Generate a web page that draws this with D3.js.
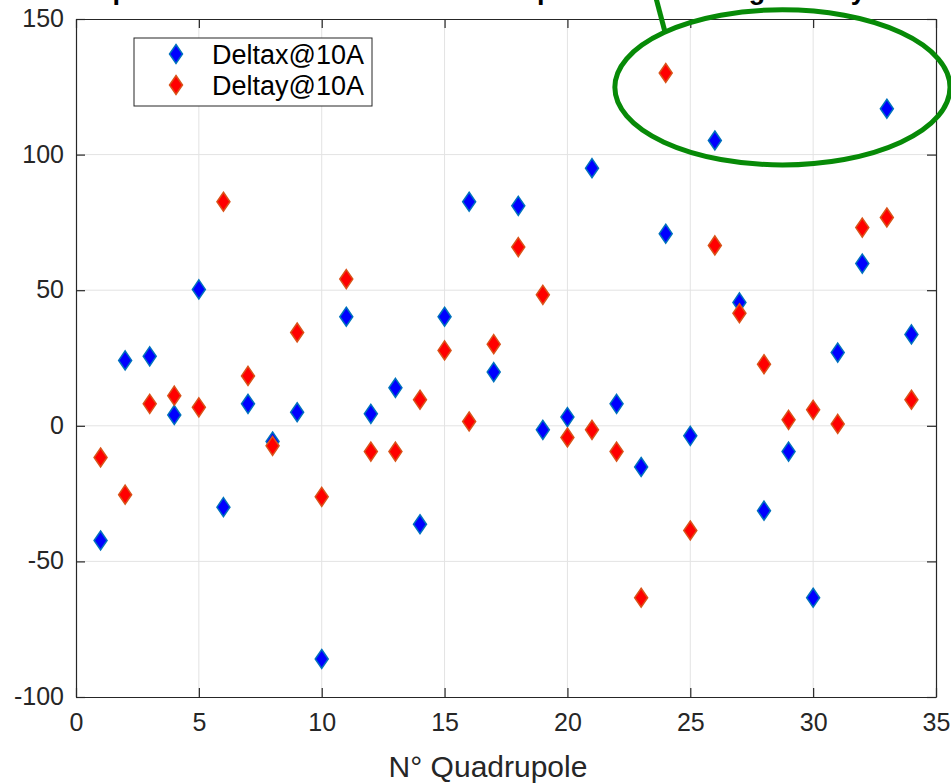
<!DOCTYPE html>
<html>
<head>
<meta charset="utf-8">
<script src="https://cdn.jsdelivr.net/npm/d3@7"></script>
<style>
  html, body { margin: 0; padding: 0; background: #fff; }
  svg { display: block; }
  text { font-family: "Liberation Sans", Arial, Helvetica, sans-serif; }
</style>
</head>
<body>
<svg id="chart" width="951" height="783"></svg>
<script>
// Quadrupole index (x) and measured offsets at 10 A
const quadrupoles = d3.range(1, 35);
const deltax = [-42.3, 24.1, 25.6, 4.0, 50.3, -30.0, 8.1, -5.8, 5.0, -86.0,
                40.2, 4.4, 14.0, -36.3, 40.2, 82.6, 19.8, 81.1, -1.5, 3.2,
                95.0, 8.1, -15.2, 70.8, -3.7, 105.2, 45.5, -31.3, -9.5, -63.4,
                27.0, 59.8, 116.9, 33.7];
const deltay = [-11.7, -25.4, 8.1, 11.1, 6.8, 82.6, 18.4, -7.4, 34.4, -26.2,
                54.1, -9.5, -9.5, 9.6, 27.8, 1.6, 30.1, 65.9, 48.3, -4.3,
                -1.5, -9.5, -63.4, 130.1, -38.6, 66.5, 41.5, 22.7, 2.2, 5.9,
                0.7, 73.1, 76.8, 9.6];
const seriesNames = ["Deltax@10A", "Deltay@10A"];
const xTicks = [0, 5, 10, 15, 20, 25, 30, 35];
const yTicks = [-100, -50, 0, 50, 100, 150];
const titleText = "Representation of the measured displacements along x and y of the magnetic quadrupoles";
const xLabel = "N\u00B0 Quadrupole";
// Highlighted region (data units): centre and half-extents
const highlight = { cx: 28.75, cy: 124.8, rx: 6.82, ry: 28.6 };

const svg = d3.select("#chart");
const W = 951, H = 783;
const m = { left: 76, right: 15, top: 19, bottom: 86 };
const x = d3.scaleLinear().domain([0, 35]).range([m.left, W - m.right]);
const y = d3.scaleLinear().domain([-100, 150]).range([H - m.bottom, m.top]);

const axisColor = "#262626";
const gridColor = "#e3e3e3";
const fmt = d => String(d);   // plain hyphen-minus

// grid
const grid = svg.append("g");
grid.selectAll("line.gx").data(xTicks.slice(1, -1)).join("line")
  .attr("x1", d => x(d)).attr("x2", d => x(d))
  .attr("y1", y(-100)).attr("y2", y(150))
  .attr("stroke", gridColor).attr("stroke-width", 1);
grid.selectAll("line.gy").data(yTicks.slice(1, -1)).join("line")
  .attr("x1", x(0)).attr("x2", x(35))
  .attr("y1", d => y(d)).attr("y2", d => y(d))
  .attr("stroke", gridColor).attr("stroke-width", 1);

// axes (ticks point inward, box on all four sides)
function styleAxis(g) {
  g.select(".domain").attr("stroke", axisColor).attr("stroke-width", 1.2);
  g.selectAll(".tick line").attr("stroke", axisColor).attr("stroke-width", 1.2);
  g.selectAll(".tick text").attr("fill", axisColor).attr("font-size", 25);
}
svg.append("g").attr("transform", `translate(0,${y(-100)})`)
  .call(d3.axisBottom(x).tickValues(xTicks).tickFormat(fmt)
        .tickSizeInner(-9).tickSizeOuter(0).tickPadding(16))
  .call(styleAxis)
  .call(g => g.selectAll(".tick text").attr("dy", "0.71em"));
svg.append("g").attr("transform", `translate(0,${y(150)})`)
  .call(d3.axisTop(x).tickValues(xTicks).tickFormat("")
        .tickSizeInner(-9).tickSizeOuter(0))
  .call(styleAxis);
svg.append("g").attr("transform", `translate(${x(0)},0)`)
  .call(d3.axisLeft(y).tickValues(yTicks).tickFormat(fmt)
        .tickSizeInner(-9).tickSizeOuter(0).tickPadding(12))
  .call(styleAxis)
  .call(g => g.selectAll(".tick text").attr("dy", "0.3em"));
svg.append("g").attr("transform", `translate(${x(35)},0)`)
  .call(d3.axisRight(y).tickValues(yTicks).tickFormat("")
        .tickSizeInner(-9).tickSizeOuter(0))
  .call(styleAxis);

// diamond marker
const diamond = "M0,-9.5L6.5,0L0,9.5L-6.5,0Z";
const styles = [
  { fill: "#0000ff", stroke: "#0072bd" },
  { fill: "#ff0000", stroke: "#d95319" }
];
[deltax, deltay].forEach((vals, i) => {
  svg.append("g").selectAll("path").data(vals).join("path")
    .attr("d", diamond)
    .attr("transform", (d, k) => `translate(${x(quadrupoles[k])},${y(d)})`)
    .attr("fill", styles[i].fill)
    .attr("stroke", styles[i].stroke)
    .attr("stroke-width", 1.5);
});

// legend
const lg = svg.append("g").attr("transform", "translate(134,38)");
lg.append("rect").attr("width", 238).attr("height", 68)
  .attr("fill", "#fff").attr("stroke", axisColor).attr("stroke-width", 1);
seriesNames.forEach((name, i) => {
  const row = lg.append("g").attr("transform", `translate(0,${16 + i * 31})`);
  row.append("path").attr("d", diamond)
    .attr("transform", "translate(42,0)")
    .attr("fill", styles[i].fill).attr("stroke", styles[i].stroke)
    .attr("stroke-width", 1.5);
  row.append("text").attr("x", 78).attr("y", 9.5)
    .attr("font-size", 27).attr("fill", "#000").text(name);
});

// title (runs past the top edge)
svg.append("text").attr("x", 78).attr("y", -1)
  .attr("font-size", 27).attr("font-weight", "bold").attr("fill", "#000")
  .text(titleText);

// x label
svg.append("text").attr("x", 488).attr("y", 777)
  .attr("text-anchor", "middle").attr("font-size", 30).attr("fill", axisColor)
  .text(xLabel);

// highlight annotation: ellipse with pointer line
const green = "#078a07";
const hx = x(highlight.cx), hy = y(highlight.cy);
const hrx = x(highlight.cx + highlight.rx) - hx;
const hry = hy - y(highlight.cy + highlight.ry);
svg.append("ellipse").attr("cx", hx).attr("cy", hy)
  .attr("rx", hrx).attr("ry", hry)
  .attr("fill", "none").attr("stroke", green).attr("stroke-width", 5);
svg.append("line")
  .attr("x1", 656).attr("y1", -2).attr("x2", 665).attr("y2", 32)
  .attr("stroke", green).attr("stroke-width", 5);
</script>
</body>
</html>
